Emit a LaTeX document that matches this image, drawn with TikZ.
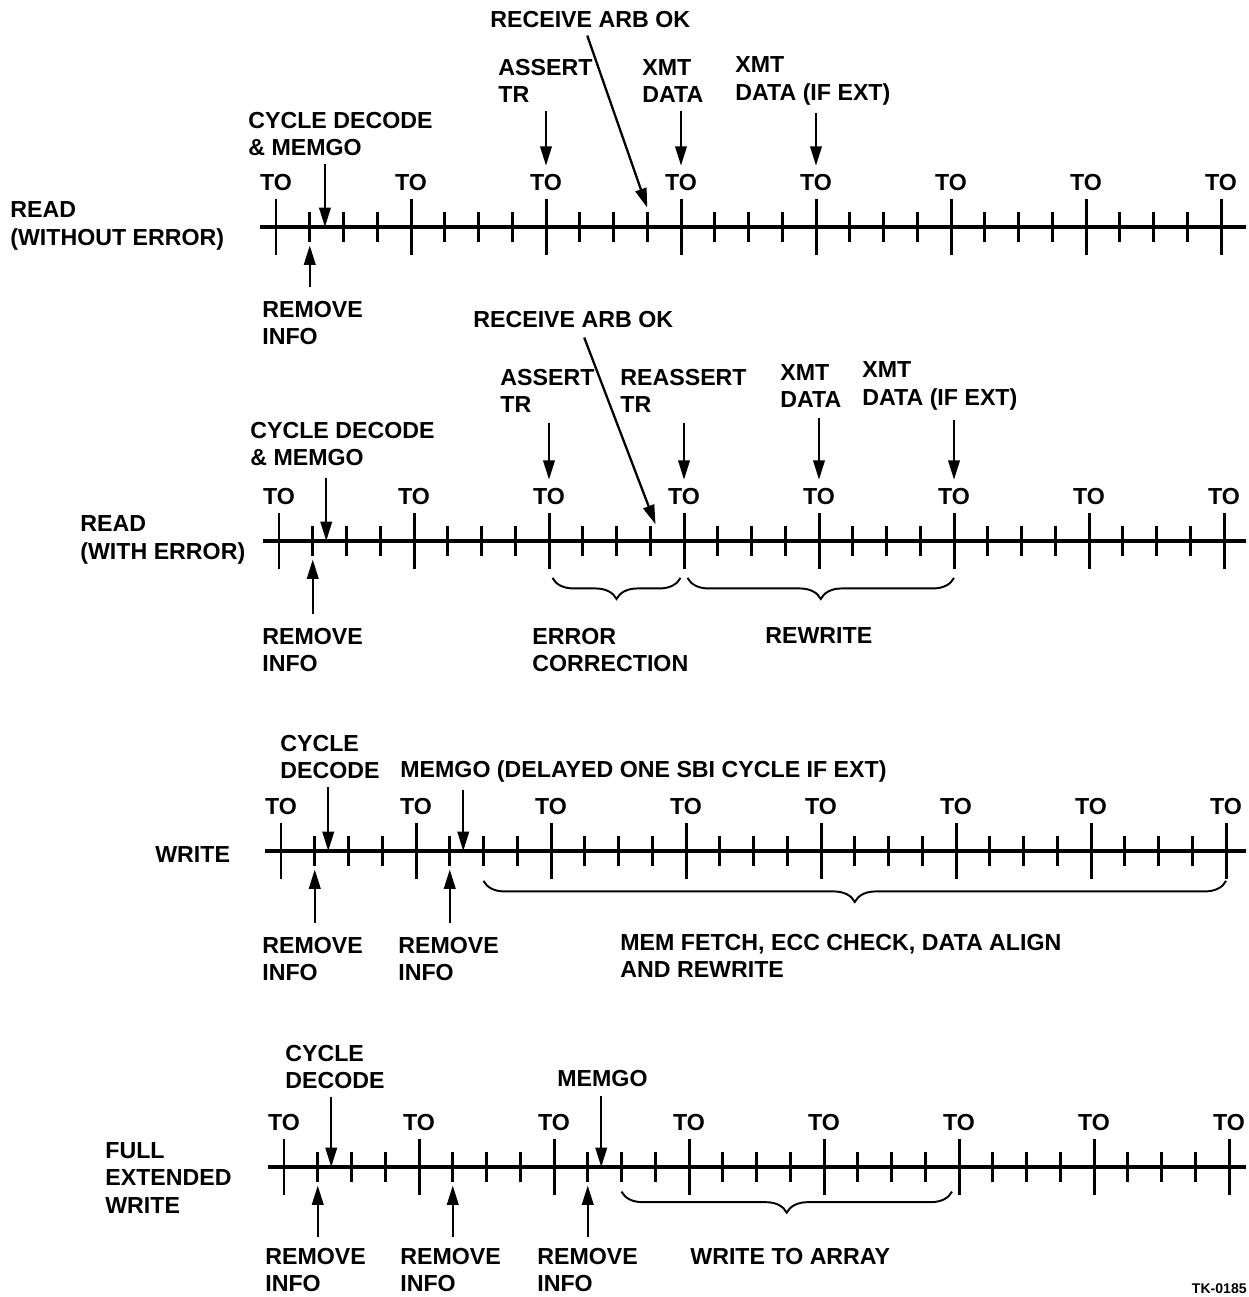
\documentclass[tikz,border=0pt]{standalone}
\usepackage{fontspec}
\setmainfont{Liberation Sans}
\usetikzlibrary{positioning, calc, arrows.meta, decorations.pathreplacing}

\begin{document}
\begin{tikzpicture}[x=0.02cm, y=-0.02cm]
  \tikzset{
    lbl/.style={font=\bfseries\fontsize{13.2}{15.6}\selectfont, inner sep=0pt,
      align=left, anchor=west},
    tolbl/.style={font=\bfseries\fontsize{13.2}{15.6}\selectfont, inner sep=0pt},
    axisline/.style={line width=1.9pt},
    tick/.style={line width=1.7pt},
    arr/.style={line width=1.3pt, -{Triangle[length=11pt,width=6.5pt]}},
    brc/.style={line width=1.1pt, decorate,
      decoration={brace, mirror, amplitude=12pt}}
  }
  \useasboundingbox (0,0) rectangle (1248,1297);

  % the four time lines
  \foreach \r/\x/\y in {1/276/227, 2/279/541, 3/281/851, 4/284/1167} {
    \draw[axisline] (\x-16,\y) -- (1246,\y);
    \foreach \q in {0,...,28} {
      \coordinate (r\r-\q) at (\x+33.75*\q,\y);
      \draw[tick] ([yshift=8.5pt]r\r-\q) -- ([yshift=-8.5pt]r\r-\q);
    }
    \foreach \q in {0,4,...,28} {
      \draw[tick] ([yshift=16pt]r\r-\q) -- ([yshift=-16pt]r\r-\q);
      \node[tolbl] (to\r-\q) at ([yshift=25.5pt]r\r-\q) {TO};
    }
  }

  % read without error
  \node[lbl] (name1) at (10,226) {READ\\(WITHOUT ERROR)};
  \node[lbl] (cd1) at (248,134) {CYCLE DECODE\\\& MEMGO};
  \node[lbl] (ri1) at (262,323) {REMOVE\\INFO};
  \node[lbl] (arb1) at (490,20) {RECEIVE ARB OK};
  \node[lbl] (at1) at (498,81) {ASSERT\\TR};
  \node[lbl] (xd1) at (642,81) {XMT\\DATA};
  \node[lbl] (xe1) at (735,81) {XMT\\DATA (IF EXT)};
  \coordinate (cdp1) at ($(r1-1)!0.45!(r1-2)$);
  \draw[arr] (cd1.south -| cdp1) ++(0,8) -- (cdp1);
  \draw[arr] (ri1.north -| r1-1) ++(0,-14) -- ([yshift=-10.5pt]r1-1);
  \draw[arr] (arb1.south) ++(-3,7) -- ([yshift=11pt]r1-11);
  \draw[arr] (at1.south -| r1-8) ++(0,8) -- ([yshift=4.5pt]to1-8.north);
  \draw[arr] (xd1.south -| r1-12) ++(0,8) -- ([yshift=4.5pt]to1-12.north);
  \draw[arr] (xe1.south -| r1-16) ++(0,8) -- ([yshift=4.5pt]to1-16.north);

  % read with error
  \node[lbl] (name2) at (80,540) {READ\\(WITH ERROR)};
  \node[lbl] (cd2) at (250,444) {CYCLE DECODE\\\& MEMGO};
  \node[lbl] (ri2) at (262,650) {REMOVE\\INFO};
  \node[lbl] (arb2) at (473,320) {RECEIVE ARB OK};
  \node[lbl] (at2) at (500,391) {ASSERT\\TR};
  \node[lbl] (rat2) at (620,391) {REASSERT\\TR};
  \node[lbl] (xd2) at (780,386) {XMT\\DATA};
  \node[lbl] (xe2) at (862,386) {XMT\\DATA (IF EXT)};
  \node[lbl] (ec2) at (532,650) {ERROR\\CORRECTION};
  \node[lbl] (rw2) at (765,636) {REWRITE};
  \coordinate (cdp2) at ($(r2-1)!0.4!(r2-2)$);
  \draw[arr] (cd2.south -| cdp2) ++(0,12) -- (cdp2);
  \draw[arr] (ri2.north -| r2-1) ++(0,-14) -- ([yshift=-10.5pt]r2-1);
  \draw[arr] (arb2.south) ++(11,9) -- ([xshift=3pt,yshift=9.5pt]r2-11);
  \draw[arr] (at2.south -| r2-8) ++(0,10) -- ([yshift=4.5pt]to2-8.north);
  \draw[arr] (rat2.south -| r2-12) ++(0,10) -- ([yshift=4.5pt]to2-12.north);
  \draw[arr] (xd2.south -| r2-16) ++(0,10) -- ([yshift=4.5pt]to2-16.north);
  \draw[arr] (xe2.south -| r2-20) ++(0,10) -- ([yshift=4.5pt]to2-20.north);
  \draw[brc] ([xshift=2pt,yshift=-21pt]r2-8) -- ([xshift=-2pt,yshift=-21pt]r2-12);
  \draw[brc] ([xshift=2pt,yshift=-21pt]r2-12) -- ([yshift=-21pt]r2-20);

  % write
  \node[lbl] (name3) at (155,855) {WRITE};
  \node[lbl] (cd3) at (280,757) {CYCLE\\DECODE};
  \node[lbl] (mg3) at (400,771) {MEMGO (DELAYED ONE SBI CYCLE IF EXT)};
  \node[lbl] (ri3a) at (262,959) {REMOVE\\INFO};
  \node[lbl] (ri3b) at (398,959) {REMOVE\\INFO};
  \node[lbl] (mf3) at (620,956) {MEM FETCH, ECC CHECK, DATA ALIGN\\AND REWRITE};
  \coordinate (cdp3) at ($(r3-1)!0.4!(r3-2)$);
  \coordinate (mgp3) at ($(r3-5)!0.4!(r3-6)$);
  \draw[arr] (cd3.south -| cdp3) ++(0,8) -- (cdp3);
  \draw[arr] (mg3.south -| mgp3) ++(0,8) -- (mgp3);
  \draw[arr] (ri3a.north -| r3-1) ++(0,-14) -- ([yshift=-10.5pt]r3-1);
  \draw[arr] (ri3b.north -| r3-5) ++(0,-14) -- ([yshift=-10.5pt]r3-5);
  \draw[brc] ([yshift=-17pt]r3-6) -- ([yshift=-17pt]r3-28);

  % full extended write
  \node[lbl] (name4) at (105,1178) {FULL\\EXTENDED\\WRITE};
  \node[lbl] (cd4) at (285,1067) {CYCLE\\DECODE};
  \node[lbl] (mg4) at (557,1079) {MEMGO};
  \node[lbl] (ri4a) at (265,1270) {REMOVE\\INFO};
  \node[lbl] (ri4b) at (400,1270) {REMOVE\\INFO};
  \node[lbl] (ri4c) at (537,1270) {REMOVE\\INFO};
  \node[lbl] (wa4) at (690,1256) {WRITE TO ARRAY};
  \coordinate (cdp4) at ($(r4-1)!0.4!(r4-2)$);
  \coordinate (mgp4) at ($(r4-9)!0.4!(r4-10)$);
  \draw[arr] (cd4.south -| cdp4) ++(0,8) -- (cdp4);
  \draw[arr] (mg4.south -| mgp4) ++(0,8) -- (mgp4);
  \draw[arr] (ri4a.north -| r4-1) ++(0,-11) -- ([yshift=-10.5pt]r4-1);
  \draw[arr] (ri4b.north -| r4-5) ++(0,-11) -- ([yshift=-10.5pt]r4-5);
  \draw[arr] (ri4c.north -| r4-9) ++(0,-11) -- ([yshift=-10.5pt]r4-9);
  \draw[brc] ([yshift=-14pt]r4-10) -- ([xshift=-4pt,yshift=-14pt]r4-20);
  \node[font=\bfseries\fontsize{8}{9}\selectfont, inner sep=0pt, anchor=east]
    (tk) at (1247,1289) {TK-0185};
\end{tikzpicture}
\end{document}
